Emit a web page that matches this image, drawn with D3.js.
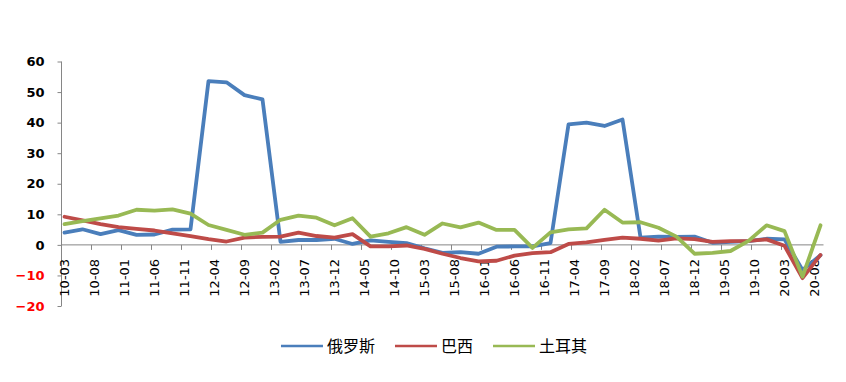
<!DOCTYPE html>
<html><head><meta charset="utf-8">
<script src="https://cdn.jsdelivr.net/npm/d3@7"></script>
<style>body{margin:0;background:#fff}svg{display:block}</style>
</head><body><svg id="c" width="846" height="382"></svg>
<script>
const quarters = ["10-03","10-06","10-09","10-12","11-03","11-06","11-09","11-12","12-03","12-06","12-09","12-12",
  "13-03","13-06","13-09","13-12","14-03","14-06","14-09","14-12","15-03","15-06","15-09","15-12",
  "16-03","16-06","16-09","16-12","17-03","17-06","17-09","17-12","18-03","18-06","18-09","18-12",
  "19-03","19-06","19-09","19-12","20-03","20-06","20-09"];
const russia = [4.0,5.1,3.5,4.8,3.3,3.4,5.0,5.1,53.6,53.2,49.0,47.6,
  1.0,1.6,1.6,2.0,0.3,1.5,1.0,0.6,-1.1,-2.6,-2.4,-2.9,
  -0.6,-0.5,-0.5,0.6,39.4,40.0,38.9,41.0,2.4,2.7,2.6,2.7,
  0.7,1.0,1.2,2.0,1.8,-8.2,-3.4];
const brazil = [9.2,8.0,6.8,5.8,5.2,4.7,3.8,2.9,1.9,1.1,2.4,2.6,
  2.7,4.0,2.9,2.4,3.5,-0.5,-0.5,-0.2,-1.3,-2.9,-4.3,-5.4,
  -5.2,-3.5,-2.7,-2.4,0.3,0.8,1.6,2.4,2.0,1.4,2.1,1.9,
  1.0,1.2,1.3,1.8,-0.3,-10.9,-3.3];
const turkey = [6.8,7.8,8.7,9.6,11.5,11.2,11.6,10.2,6.5,4.9,3.3,4.0,
  8.2,9.6,8.9,6.4,8.7,2.7,3.8,5.8,3.3,7.0,5.7,7.3,
  4.9,4.9,-1.0,4.1,5.1,5.4,11.5,7.3,7.4,5.6,2.7,-2.9,
  -2.6,-2.0,1.3,6.4,4.5,-10.4,6.4];
const xTickLabels = ["10-03","10-08","11-01","11-06","11-11","12-04","12-09","13-02","13-07","13-12",
  "14-05","14-10","15-03","15-08","16-01","16-06","16-11","17-04","17-09","18-02","18-07","18-12",
  "19-05","19-10","20-03","20-08"];
const yTicks = [60,50,40,30,20,10,0,-10,-20];
const seriesNames = ["俄罗斯","巴西","土耳其"];
const seriesColors = ["#4A7EBB","#BE4B48","#98B954"];

const svg = d3.select("#c");
const fmt = d3.timeFormat("%y-%m");
const months = d3.timeMonth.range(new Date(2010,2,1), new Date(2020,9,1)).map(fmt);

const x = d3.scaleBand().domain(months).range([61.5, 823.5]).paddingInner(0).paddingOuter(0);
const y = d3.scaleLinear().domain([-20, 60]).range([306, 61.5]);
const cx = m => x(m) + x.bandwidth()/2;
const axisColor = "#868686";

// Y axis
const yAxis = d3.axisLeft(y).tickValues(yTicks).tickSize(4).tickPadding(13).tickFormat(d3.format("d"));
const gy = svg.append("g").attr("transform", "translate(61.5,0)").call(yAxis);
gy.select(".domain").attr("stroke", axisColor).attr("d", `M-0,${y(60)}V${y(-20)}`);
gy.selectAll(".tick line").attr("stroke", axisColor);
gy.selectAll(".tick text")
  .attr("font-family", "DejaVu Sans").attr("font-size", 13).attr("font-weight", "bold")
  .attr("fill", d => d < 0 ? "#FF0000" : "#000");

// X axis (category axis at zero)
const gx = svg.append("g");
gx.append("line").attr("x1", 61.5).attr("x2", 823.5).attr("y1", y(0)).attr("y2", y(0))
  .attr("stroke", axisColor).attr("stroke-width", 1);
gx.selectAll("line.tk").data(xTickLabels).join("line").attr("class", "tk")
  .attr("x1", d => x(d)).attr("x2", d => x(d)).attr("y1", y(0)).attr("y2", y(0) + 5)
  .attr("stroke", axisColor);
gx.selectAll("text").data(xTickLabels).join("text")
  .attr("transform", d => `translate(${cx(d)},${y(0) + 14}) rotate(-90)`)
  .attr("text-anchor", "end").attr("dy", "0.36em")
  .attr("font-family", "DejaVu Sans").attr("font-size", 13)
  .attr("fill", "#000").text(d => d);

// Lines
const series = [russia, brazil, turkey];
const line = d3.line().x((d, i) => cx(quarters[i])).y(d => y(d));
series.forEach((s, k) => {
  svg.append("path").datum(s).attr("d", line).attr("fill", "none")
    .attr("stroke", seriesColors[k]).attr("stroke-width", 3.8)
    .attr("stroke-linejoin", "round").attr("stroke-linecap", "round");
});

// Legend
const lg = svg.append("g");
let lx = 0;
seriesNames.forEach((n, k) => {
  const g = lg.append("g");
  g.append("line").attr("x1", lx).attr("x2", lx + 42).attr("y1", 346).attr("y2", 346)
    .attr("stroke", seriesColors[k]).attr("stroke-width", 2.5);
  const t = g.append("text").attr("x", lx + 46).attr("y", 346).attr("dy", "0.35em")
    .attr("font-family", "Noto Sans CJK SC").attr("font-size", 16).attr("fill", "#000").text(n);
  lx += 46 + t.node().getComputedTextLength() + 20;
});
const totalW = lx - 20;
lg.attr("transform", `translate(${434 - totalW/2},0)`);
</script>
</body></html>
